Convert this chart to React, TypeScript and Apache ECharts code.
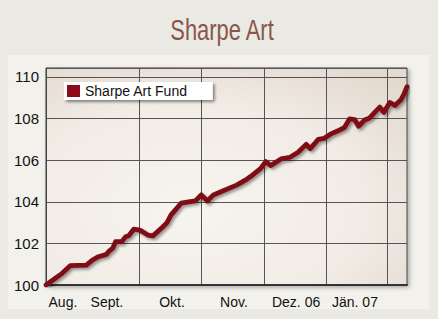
import React, { useEffect, useRef } from "react";
import * as echarts from "echarts";

// Days since the first observation (mid-August 2006) and fund values
const days = [0, 5, 8, 12, 20, 23, 26, 30, 31, 33, 34.5, 37.5, 39.5, 41, 43.5, 46.5, 50.5, 53, 58, 60, 62, 64.5, 67, 70, 74, 77, 80, 83, 87, 94.5, 99.5, 102.5, 106.5, 109, 111.5, 116.5, 121, 125, 129, 131, 135, 138, 141, 144.5, 148, 150.5, 153, 155, 158, 160.5, 163, 165.5, 167.5, 170.5, 173, 176, 177.5, 179];
const values = [100.0, 100.35, 100.56, 100.93, 100.96, 101.2, 101.36, 101.47, 101.6, 101.76, 102.08, 102.08, 102.32, 102.37, 102.68, 102.64, 102.4, 102.36, 102.8, 103.0, 103.37, 103.65, 103.93, 103.98, 104.04, 104.33, 104.04, 104.33, 104.49, 104.8, 105.08, 105.29, 105.61, 105.93, 105.74, 106.06, 106.14, 106.38, 106.76, 106.55, 107.0, 107.05, 107.25, 107.4, 107.57, 107.98, 107.95, 107.63, 107.93, 108.03, 108.3, 108.55, 108.3, 108.77, 108.63, 108.9, 109.17, 109.53];

// Month labels (placed mid-month) and month boundaries (grid lines)
const monthLabels = ["Aug.", "Sept.", "Okt.", "Nov.", "Dez. 06", "Jän. 07"];
const labelDays = [8.4, 30.2, 62.5, 93.2, 124, 153.2];
const gridDays = [46, 77, 108, 139, 169];
const yTicks = [100, 102, 104, 106, 108, 110];

const seriesName = "Sharpe Art Fund";
const titleText = "Sharpe Art";

const SANS = '"Liberation Sans", Arial, sans-serif';

export default function App() {
  const ref = useRef<HTMLDivElement>(null);
  useEffect(() => {
    document.body.style.margin = "0";
    const chart = echarts.init(ref.current!, null, { renderer: "svg" });
    const data = days.map((d, i) => [d, values[i]]);
    chart.setOption({
      animation: false,
      backgroundColor: "#ebe9e4",
      graphic: [
        {
          type: "rect",
          z: -10,
          shape: { x: 8, y: 55, width: 421, height: 254 },
          style: { fill: "#f3f1ec" },
        },
        {
          type: "text",
          x: 222,
          y: 30,
          scaleX: 0.73,
          style: {
            text: titleText,
            fill: "#87574a",
            font: "30px " + SANS,
            textAlign: "center",
            textVerticalAlign: "middle",
          },
        },
      ],
      legend: {
        data: [seriesName],
        left: 64,
        top: 82,
        icon: "rect",
        itemWidth: 13,
        itemHeight: 12,
        backgroundColor: "#ffffff",
        padding: [2, 25, 2, 3],
        shadowColor: "rgba(0,0,0,0.45)",
        shadowBlur: 3,
        shadowOffsetX: 2,
        shadowOffsetY: 2,
        textStyle: { fontFamily: SANS, fontSize: 14, color: "#111" },
      },
      grid: {
        left: 46,
        top: 68,
        right: 31,
        bottom: 34,
        show: true,
        borderColor: "#444",
        borderWidth: 1,
        shadowColor: "rgba(0,0,0,0.3)",
        shadowBlur: 4,
        shadowOffsetX: 2,
        shadowOffsetY: 2,
        backgroundColor: {
          type: "radial",
          x: 0.4,
          y: 0.65,
          r: 0.8,
          colorStops: [
            { offset: 0, color: "#f7f4ee" },
            { offset: 0.6, color: "#f1ece5" },
            { offset: 1, color: "#e3d9cf" },
          ],
        },
      },
      xAxis: [
        {
          type: "value",
          min: 0,
          max: 179,
          axisLine: { show: true, lineStyle: { color: "#333", width: 2 } },
          axisTick: { show: false },
          splitLine: { show: false },
          axisLabel: {
            customValues: labelDays,
            formatter: (v: number) => {
              const i = labelDays.indexOf(v);
              return i >= 0 ? monthLabels[i] : "";
            },
            margin: 10,
            fontFamily: SANS,
            fontSize: 14,
            color: "#111",
          },
        },
        {
          type: "value",
          min: 0,
          max: 179,
          position: "bottom",
          axisLine: { show: false },
          axisLabel: { show: false },
          axisTick: { show: false, customValues: gridDays },
          splitLine: { show: true, lineStyle: { color: "#555", width: 1 } },
        },
      ],
      yAxis: {
        type: "value",
        min: 100,
        max: 110.43,
        interval: 2,
        axisLine: { show: true, lineStyle: { color: "#444", width: 1 } },
        axisTick: { show: false },
        splitLine: { show: true, lineStyle: { color: "#555", width: 1 } },
        axisLabel: {
          formatter: (v: number) => (yTicks.indexOf(v) >= 0 ? String(v) : ""),
          margin: 7,
          fontFamily: SANS,
          fontSize: 15,
          color: "#111",
        },
      },
      series: [
        {
          name: seriesName,
          type: "line",
          xAxisIndex: 0,
          data,
          showSymbol: false,
          z: 5,
          itemStyle: { color: "#8b0b1c" },
          lineStyle: {
            color: "#7e0b17",
            width: 4.8,
            join: "round",
            cap: "round",
            shadowColor: "rgba(0,0,0,0.4)",
            shadowBlur: 3,
            shadowOffsetX: 2,
            shadowOffsetY: 2,
          },
        },
      ],
    });
    return () => chart.dispose();
  }, []);
  return <div ref={ref} style={{ width: 438, height: 319 }} />;
}
